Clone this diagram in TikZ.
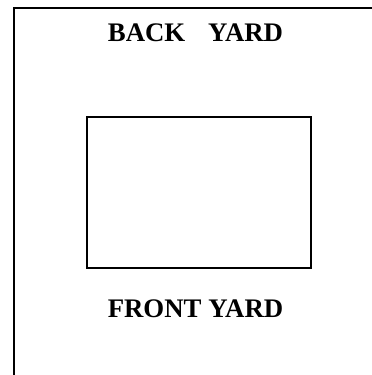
\documentclass[tikz,border=0pt]{standalone}
\usepackage{fontspec}
\setmainfont{Liberation Serif}
\begin{document}
\begin{tikzpicture}[x=1pt,y=-1pt,
  yardlabel/.style={anchor=base,font=\fontsize{26.8}{30}\selectfont\bfseries,inner sep=0pt},
  housebox/.style={draw,line width=2pt,minimum width=224pt,minimum height=151pt,inner sep=0pt},
  frameline/.style={line width=2pt}]
\useasboundingbox[fill=white] (0,0) rectangle (372,375);
\coordinate (ftr) at (372,7.5);
\coordinate (ftl) at (13.5,7.5);
\coordinate (fbl) at (13.5,375);
\draw[frameline] (ftr) -- (ftl) -- (fbl);
\node[housebox] (house) at (199,192.5) {};
\node[yardlabel] (back) at (195.5,41.5) {BACK\hspace{0.85em}YARD};
\node[yardlabel] (front) at (195.5,317.5) {FRONT YARD};
\end{tikzpicture}
\end{document}
